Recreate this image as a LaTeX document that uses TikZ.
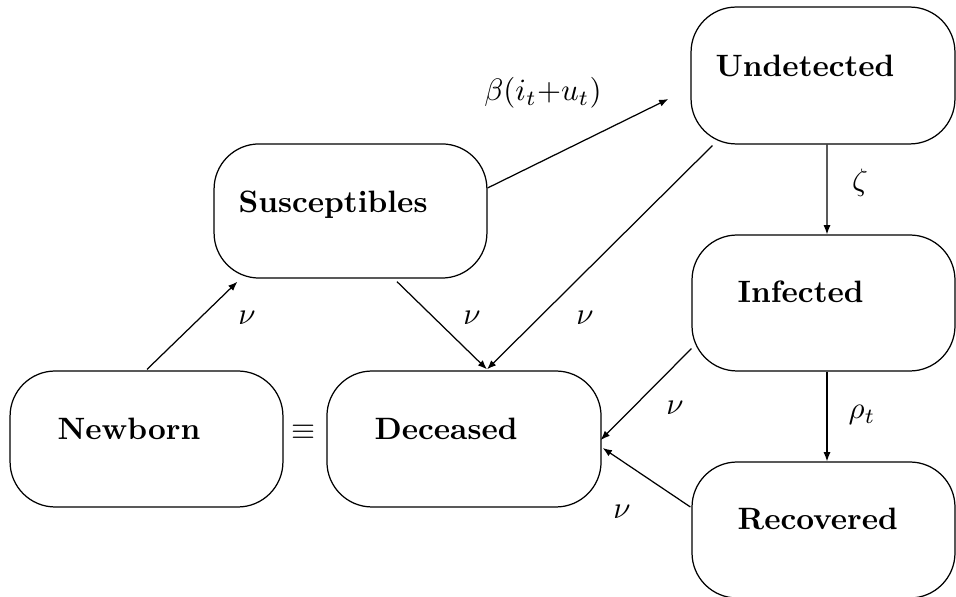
\documentclass[tikz,border=0pt]{standalone}
\usetikzlibrary{calc,arrows.meta}
\tikzset{
  box/.style={draw, line width=0.4pt, rounded corners=14.6pt, minimum width=88.3pt, minimum height=44pt, inner sep=0pt},
  boxtext/.style={anchor=base west, inner sep=0pt, font=\bfseries},
  lab/.style={inner sep=0pt},
  arr/.style={line width=0.4pt, -{Latex[length=3pt,width=2.3pt]}}
}
\begin{document}
\begin{tikzpicture}[x=0.3236pt, y=-0.3236pt]
\useasboundingbox (0,0) rectangle (956,597);
% boxes
\node[box, minimum width=85.4pt, minimum height=44.3pt] (und) at (823,75.5) {};
\node[box, minimum width=85.1pt] (inf) at (823.5,303) {};
\node[box, minimum width=85.1pt] (rec) at (823.5,530) {};
\node[box, minimum height=43.4pt] (sus) at (350.5,211) {};
\node[box] (new) at (146.5,439) {};
\node[box, minimum width=88.7pt] (dec) at (464,439) {};
% box texts
\node[boxtext] (tund) at (715,77) {Undetected};
\node[boxtext] (tinf) at (737,303) {Infected};
\node[boxtext] (trec) at (737,530) {Recovered};
\node[boxtext] (tsus) at (238,213) {Susceptibles};
\node[boxtext] (tnew) at (57,440) {Newborn};
\node[boxtext] (tdec) at (374,440) {Deceased};
\node[lab] (eq) at (304,432) {$\equiv$};
% connectors
\draw[arr] ($(sus.east)+(0,-23)$) -- ($(und.west)+(-22,23.5)$);
\draw[arr] ($(und.south west)+(22,1)$) -- ($(dec.north)+(23,-1)$);
\draw[arr] ($(sus.south)+(46.5,3)$) -- ($(dec.north)+(23,-1)$);
\draw[arr] ($(new.north)+(0.5,-1)$) -- ($(sus.south west)+(24,3)$);
\draw[arr] ($(und.south)+(4,0)$) -- ($(inf.north)+(3.5,0)$);
\draw[arr] ($(inf.south)+(3.5,0)$) -- ($(rec.north)+(3.5,0)$);
\draw[arr] ($(inf.south west)+(0,-23)$) -- ($(dec.east)+(-1,1)$);
\draw[arr] ($(rec.west)+(-1,-23)$) -- ($(dec.east)+(1,9)$);
% labels
\node[lab] (lbeta) at (543,93) {$\beta(i_t{+}u_t)$};
\node[lab] (lnu1) at (247,318) {$\nu$};
\node[lab] (lnu2) at (472,318) {$\nu$};
\node[lab] (lnu3) at (585,318) {$\nu$};
\node[lab] (lzeta) at (860,183) {$\zeta$};
\node[lab] (lrho) at (862,415) {$\rho_t$};
\node[lab] (lnu4) at (675,408) {$\nu$};
\node[lab] (lnu5) at (622,512) {$\nu$};
\end{tikzpicture}
\end{document}
